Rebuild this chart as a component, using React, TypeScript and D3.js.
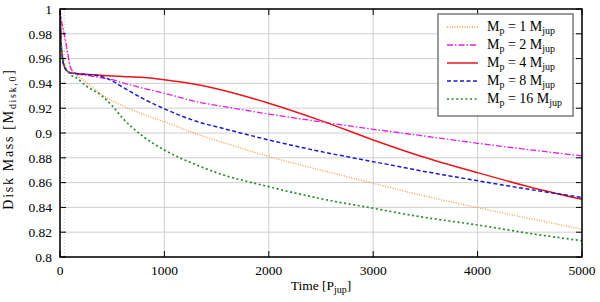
import React from "react";
import * as d3 from "d3";

// time in units of P_jup
const times = [0, 5, 10, 20, 30, 50, 75, 100, 150, 250, 400, 500, 600, 800, 1000, 1350, 1500, 2000, 2500, 3000, 3450, 4000, 4500, 5000];

// disk mass in units of M_disk,0
const massM1 = [1.0, 0.996, 0.992, 0.986, 0.982, 0.974, 0.962, 0.952, 0.9475, 0.941, 0.931, 0.926, 0.922, 0.915, 0.909, 0.898, 0.894, 0.881, 0.87, 0.8595, 0.85, 0.8398, 0.831, 0.8223];
const massM2 = [1.0, 0.997, 0.993, 0.988, 0.984, 0.976, 0.964, 0.953, 0.948, 0.9465, 0.9445, 0.943, 0.9405, 0.936, 0.932, 0.9245, 0.9223, 0.9153, 0.909, 0.903, 0.898, 0.8917, 0.8865, 0.8815];
const massM4 = [1.0, 0.985, 0.973, 0.963, 0.957, 0.952, 0.9495, 0.9485, 0.948, 0.9473, 0.9465, 0.946, 0.9456, 0.9448, 0.943, 0.9385, 0.9357, 0.924, 0.91, 0.8944, 0.8815, 0.868, 0.8565, 0.8465];
const massM8 = [1.0, 0.985, 0.973, 0.963, 0.957, 0.952, 0.9495, 0.9485, 0.948, 0.9472, 0.9455, 0.942, 0.937, 0.9275, 0.9195, 0.9083, 0.905, 0.8944, 0.885, 0.8769, 0.8696, 0.8615, 0.8545, 0.848];
const massM16 = [1.0, 0.986, 0.975, 0.965, 0.959, 0.953, 0.95, 0.947, 0.945, 0.938, 0.93, 0.922, 0.912, 0.897, 0.8863, 0.8728, 0.868, 0.8567, 0.847, 0.8393, 0.8325, 0.8258, 0.819, 0.8131];

const planetMasses = ["1", "2", "4", "8", "16"];
const xTicks = [0, 1000, 2000, 3000, 4000, 5000];
const yTicks = [0.8, 0.82, 0.84, 0.86, 0.88, 0.9, 0.92, 0.94, 0.96, 0.98, 1];

const styles = [
  { color: "#f39a3c", width: 1.3, dash: "1,1.5" },
  { color: "#e020e0", width: 1.3, dash: "6,2,1.5,2" },
  { color: "#e8161c", width: 1.5, dash: "" },
  { color: "#1a1acc", width: 1.5, dash: "4,2.5" },
  { color: "#2a8a2a", width: 1.7, dash: "2,2.6" },
];

const W = 600;
const H = 302;
const m = { left: 60, right: 18, top: 9, bottom: 45 };
const FONT = "'Liberation Serif', 'Times New Roman', serif";

export default function App() {
  const series = [massM1, massM2, massM4, massM8, massM16];
  const x = d3.scaleLinear().domain([0, 5000]).range([m.left, W - m.right]);
  const y = d3.scaleLinear().domain([0.8, 1]).range([H - m.bottom, m.top]);

  const line = d3
    .line<[number, number]>()
    .x((d) => x(d[0]))
    .y((d) => y(d[1]))
    .curve(d3.curveMonotoneX);

  const x0 = x(0), x1 = x(5000), y0 = y(0.8), y1 = y(1);
  const tick = 6;

  // legend
  const lgX = 438, lgY = 14, lgW = 135, lgH = 102, lgStep = 18;

  return (
    <svg
      width={W}
      height={H}
      style={{ position: "absolute", left: 0, top: 0, background: "#fff" }}
      fontFamily={FONT}
    >
      <defs>
        <clipPath id="plot">
          <rect x={x0} y={y1} width={x1 - x0} height={y0 - y1} />
        </clipPath>
      </defs>

      {/* grid */}
      {xTicks.map((t) => (
        <line key={"gx" + t} x1={x(t)} x2={x(t)} y1={y1} y2={y0} stroke="#cfcfcf" strokeWidth={1} />
      ))}
      {yTicks.map((t) => (
        <line key={"gy" + t} x1={x0} x2={x1} y1={y(t)} y2={y(t)} stroke="#cfcfcf" strokeWidth={1} />
      ))}

      {/* faint vertical trace near t = 40 */}
      <line x1={x(40)} x2={x(40)} y1={y1} y2={y0} stroke="#c9b9bd" strokeWidth={1} strokeDasharray="1,2" />

      {/* curves */}
      <g clipPath="url(#plot)">
        {series.map((s, i) => (
          <path
            key={i}
            d={line(times.map((t, j) => [t, s[j]] as [number, number])) || ""}
            fill="none"
            stroke={styles[i].color}
            strokeWidth={styles[i].width}
            strokeDasharray={styles[i].dash || undefined}
          />
        ))}
      </g>

      {/* ticks on all sides, pointing inward */}
      {xTicks.map((t) => (
        <g key={"tx" + t} stroke="#000" strokeWidth={1}>
          <line x1={x(t)} x2={x(t)} y1={y0} y2={y0 - tick} />
          <line x1={x(t)} x2={x(t)} y1={y1} y2={y1 + tick} />
        </g>
      ))}
      {yTicks.map((t) => (
        <g key={"ty" + t} stroke="#000" strokeWidth={1}>
          <line x1={x0} x2={x0 + tick} y1={y(t)} y2={y(t)} />
          <line x1={x1} x2={x1 - tick} y1={y(t)} y2={y(t)} />
        </g>
      ))}

      {/* frame */}
      <rect x={x0} y={y1} width={x1 - x0} height={y0 - y1} fill="none" stroke="#000" strokeWidth={1.5} />

      {/* tick labels */}
      {xTicks.map((t) => (
        <text key={"lx" + t} x={x(t)} y={y0 + 18} textAnchor="middle" fontSize={13.5}>
          {t}
        </text>
      ))}
      {yTicks.map((t) => (
        <text key={"ly" + t} x={x0 - 8} y={y(t)} dy="0.35em" textAnchor="end" fontSize={13.5}>
          {d3.format("~g")(t)}
        </text>
      ))}

      {/* axis titles */}
      <text x={(x0 + x1) / 2} y={290} textAnchor="middle" fontSize={13.5}>
        Time [P<tspan dy={3} fontSize={10}>jup</tspan><tspan dy={-3}>]</tspan>
      </text>
      <text
        transform={`translate(13,139) rotate(-90)`}
        textAnchor="middle"
        fontSize={14}
        letterSpacing={1.7}
      >
        Disk Mass [M<tspan dy={3} fontSize={10}>disk,0</tspan><tspan dy={-3}>]</tspan>
      </text>

      {/* legend */}
      <rect x={lgX} y={lgY} width={lgW} height={lgH} fill="#fff" stroke="#7a7a7a" strokeWidth={1.5} />
      {planetMasses.map((p, i) => {
        const cy = lgY + 13 + i * lgStep;
        return (
          <g key={"lg" + p}>
            <line
              x1={lgX + 9}
              x2={lgX + 40}
              y1={cy}
              y2={cy}
              stroke={styles[i].color}
              strokeWidth={styles[i].width}
              strokeDasharray={styles[i].dash || undefined}
            />
            <text x={lgX + 49} y={cy + 4} fontSize={14}>
              M<tspan dy={3} fontSize={10}>p</tspan>
              <tspan dy={-3}>{` = ${p} M`}</tspan>
              <tspan dy={3} fontSize={10}>jup</tspan>
            </text>
          </g>
        );
      })}
    </svg>
  );
}
